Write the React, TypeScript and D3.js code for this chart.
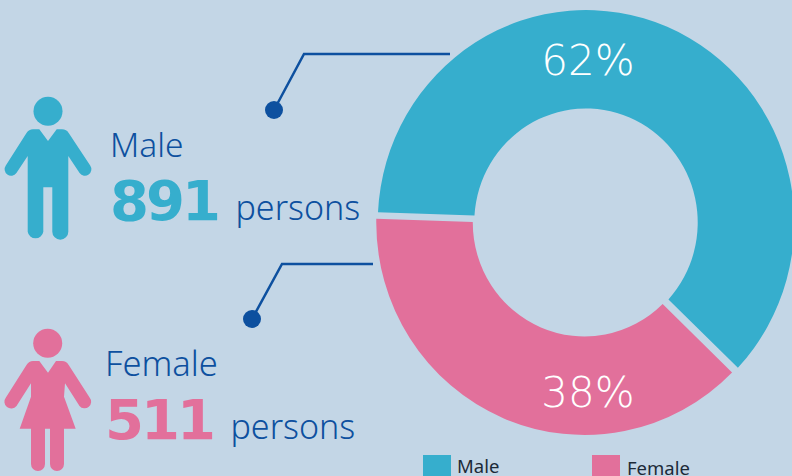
import React from "react";
import * as d3 from "d3";

const categories = ["Male", "Female"];
const shares = [61.7, 38.3];
const persons = [891, 511];
const colors = ["#36aecd", "#e2709b"];
const BG = "#c3d6e6";
const NAVY = "#0d509f";
const FONT = "'Noto Sans', sans-serif";

const MALE_BODY = "M39.3 129.3 L48 141 L56.7 129.3 L62 129.3 Q66.5 129.3 68.7 133 L90.2 165.5 A6.3 6.3 0 0 1 79.6 173 L68.3 156 L68.3 231.7 A7.9 7.9 0 0 1 52.3 231.7 L52.3 187.3 L43.3 187.3 L43.3 231.7 A7.9 7.9 0 0 1 27.7 231.7 L27.7 156 L16.4 173 A6.3 6.3 0 0 1 5.8 165.5 L26.5 133 Q29 129.3 33 129.3 Z";
const FEMALE_BODY = "M39.3 361 L48 372.7 L56 361 L62 361 Q66.5 361 68.7 365 L89.6 397.5 A6.3 6.3 0 0 1 79.5 406 L65 383.3 L64 396.7 L75.7 428.7 L64 428.7 L64 464 A7 7 0 0 1 50 464 L50 428.7 L45 428.7 L45 464 A7 7 0 0 1 31 464 L31 428.7 L19.7 428.7 L31 396.7 L31 383.3 L16.5 406 A6.3 6.3 0 0 1 5.9 397.5 L26.5 365 Q29 361 33 361 Z";

export default function App() {
  const pie = d3
    .pie<number>()
    .sort(null)
    .startAngle((271.9 * Math.PI) / 180)
    .endAngle(((271.9 + 360) * Math.PI) / 180);
  const arcs = pie(shares);
  const arc = d3
    .arc<d3.PieArcDatum<number>>()
    .innerRadius(114)
    .outerRadius(212.5)
    .padAngle(0.03)
    .padRadius(212);
  const cx = [586, 584.5];
  const cy = 222.5;
  const labelY = [75, 407];
  const labelX = [588, 588];
  const legendX = [423, 592];
  const legendTextX = [457, 627];
  const legendTextY = [472.5, 475];
  const legendRectY = [455, 455];

  return (
    <svg
      width={792}
      height={476}
      style={{ position: "absolute", left: 0, top: 0, display: "block" }}
      fontFamily={FONT}
    >
      <rect width={792} height={476} fill={BG} />
      {arcs.map((a, i) => (
        <path key={categories[i]} d={arc(a) ?? ""} fill={colors[i]} transform={`translate(${cx[i]},${cy}) scale(0.98,1)`} />
      ))}
      {arcs.map((a, i) => (
        <text key={categories[i]} x={labelX[i]} y={labelY[i]} textAnchor="middle" fill="#fff" fontSize={42} fontWeight={200} fontFamily="'DejaVu Sans'">
          {Math.round(shares[i])}%
        </text>
      ))}

      <path d="M450 54 H304 L274 110" fill="none" stroke={NAVY} strokeWidth={2.5} />
      <circle cx={274} cy={110} r={9} fill={NAVY} />
      <path d="M373 264 H282 L252 319" fill="none" stroke={NAVY} strokeWidth={2.5} />
      <circle cx={252} cy={319} r={9} fill={NAVY} />

      <circle cx={48} cy={111.3} r={14.5} fill={colors[0]} />
      <path d={MALE_BODY} fill={colors[0]} />
      <circle cx={47.7} cy={343.3} r={14.5} fill={colors[1]} />
      <path d={FEMALE_BODY} fill={colors[1]} />

      <text x={110} y={157} fontSize={33.5} fontWeight={300} fill={NAVY}>{categories[0]}</text>
      <text x={110} y={220} fontSize={56} fontWeight={700} fill={colors[0]} fontFamily="'DejaVu Sans'" letterSpacing={-3}>{persons[0]}</text>
      <text x={235.5} y={220} fontSize={34} fontWeight={300} fill={NAVY}>persons</text>

      <text x={105} y={376} fontSize={34.5} fontWeight={300} fill={NAVY}>{categories[1]}</text>
      <text x={105} y={439} fontSize={56} fontWeight={700} fill={colors[1]} fontFamily="'DejaVu Sans'" letterSpacing={-3}>{persons[1]}</text>
      <text x={230.5} y={439} fontSize={34} fontWeight={300} fill={NAVY}>persons</text>

      {categories.map((c, i) => (
        <g key={c}>
          <rect x={legendX[i]} y={legendRectY[i]} width={28} height={21} fill={colors[i]} />
          <text x={legendTextX[i]} y={legendTextY[i]} fontSize={18.5} fill="#1c2a38">{c}</text>
        </g>
      ))}
    </svg>
  );
}
